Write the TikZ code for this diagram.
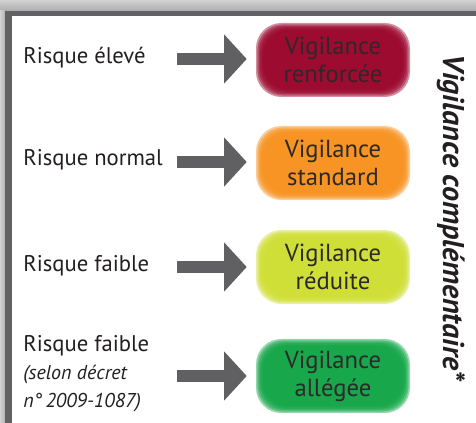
\documentclass[tikz,border=0pt]{standalone}
\usepackage{fontspec}
\setmainfont{PT Sans}
\usetikzlibrary{arrows.meta}

\definecolor{framegray}{RGB}{98,98,100}
\definecolor{arrowgray}{RGB}{96,96,98}
\definecolor{textblack}{RGB}{35,31,32}
\definecolor{boxtext}{RGB}{45,40,42}
\definecolor{vigred}{RGB}{155,6,44}
\definecolor{vigorange}{RGB}{247,146,30}
\definecolor{vigyellow}{RGB}{208,223,52}
\definecolor{viggreen}{RGB}{20,166,72}

\newcommand{\decretfont}{\itshape\fontsize{15}{18}\selectfont}

\tikzset{
  risk/.style={anchor=west, inner sep=0pt, text=textblack, font=\fontsize{17}{21}\selectfont},
  vigbox/.style={inner sep=0pt, minimum width=115pt, minimum height=55pt, align=center,
    text=boxtext, font=\fontsize{18.5}{21}\selectfont},
  bigarrow/.style={draw=arrowgray, line width=9pt, shorten >=7pt,
    -{Triangle[length=17pt,width=36pt]}},
}

\begin{document}
\begin{tikzpicture}[x=0.75pt,y=0.75pt,yscale=-1,xscale=1]
\useasboundingbox (0,0) rectangle (476,423);

% frame
\fill[white] (0,0) rectangle (476,423);
\shade[top color=gray!35, bottom color=gray!65] (0,0) rectangle (476,11);
\shade[left color=gray!35, right color=gray!60] (0,11) rectangle (5,423);
\fill[framegray] (5,11) rectangle (476,16);
\fill[framegray] (5,11) rectangle (12,423);

% fuzzy boxes
\foreach \n/\y/\c in {1/60/vigred, 2/163/vigorange, 3/267/vigyellow, 4/376/viggreen}{
  \foreach \k in {0,...,5}{
    \fill[\c, opacity=0.45, rounded corners=19pt]
      (256+\k*1.4,\y-37+\k*1.4) rectangle (410-\k*1.4,\y+37-\k*1.4);
  }
}

% boxes
\node[vigbox] (v1) at (333,60) {Vigilance\\renforcée};
\node[vigbox] (v2) at (333,163) {Vigilance\\standard};
\node[vigbox] (v3) at (333,267) {Vigilance\\réduite};
\node[vigbox] (v4) at (333,376) {Vigilance\\allégée};

% risk levels
\node[risk] (r1) at (23,58) {Risque élevé};
\node[risk] (r2) at (23,160) {Risque normal};
\node[risk] (r3) at (23,266) {Risque faible};
\node[risk, align=left] (r4) at (23,374) {Risque faible\\
  \decretfont (selon décret\\ \decretfont n°\,2009-1087)};

% arrows
\foreach \n/\y in {1/59, 2/162, 3/267, 4/376}{
  \coordinate (a\n) at (177,\y);
  \draw[bigarrow] (a\n) -- (v\n.west |- a\n);
}

% side label
\node[rotate=-90, inner sep=0pt, text=textblack, font=\bfseries\itshape\fontsize{22.5}{26}\selectfont]
  (side) at (451,218) {Vigilance complémentaire*};

\end{tikzpicture}
\end{document}
